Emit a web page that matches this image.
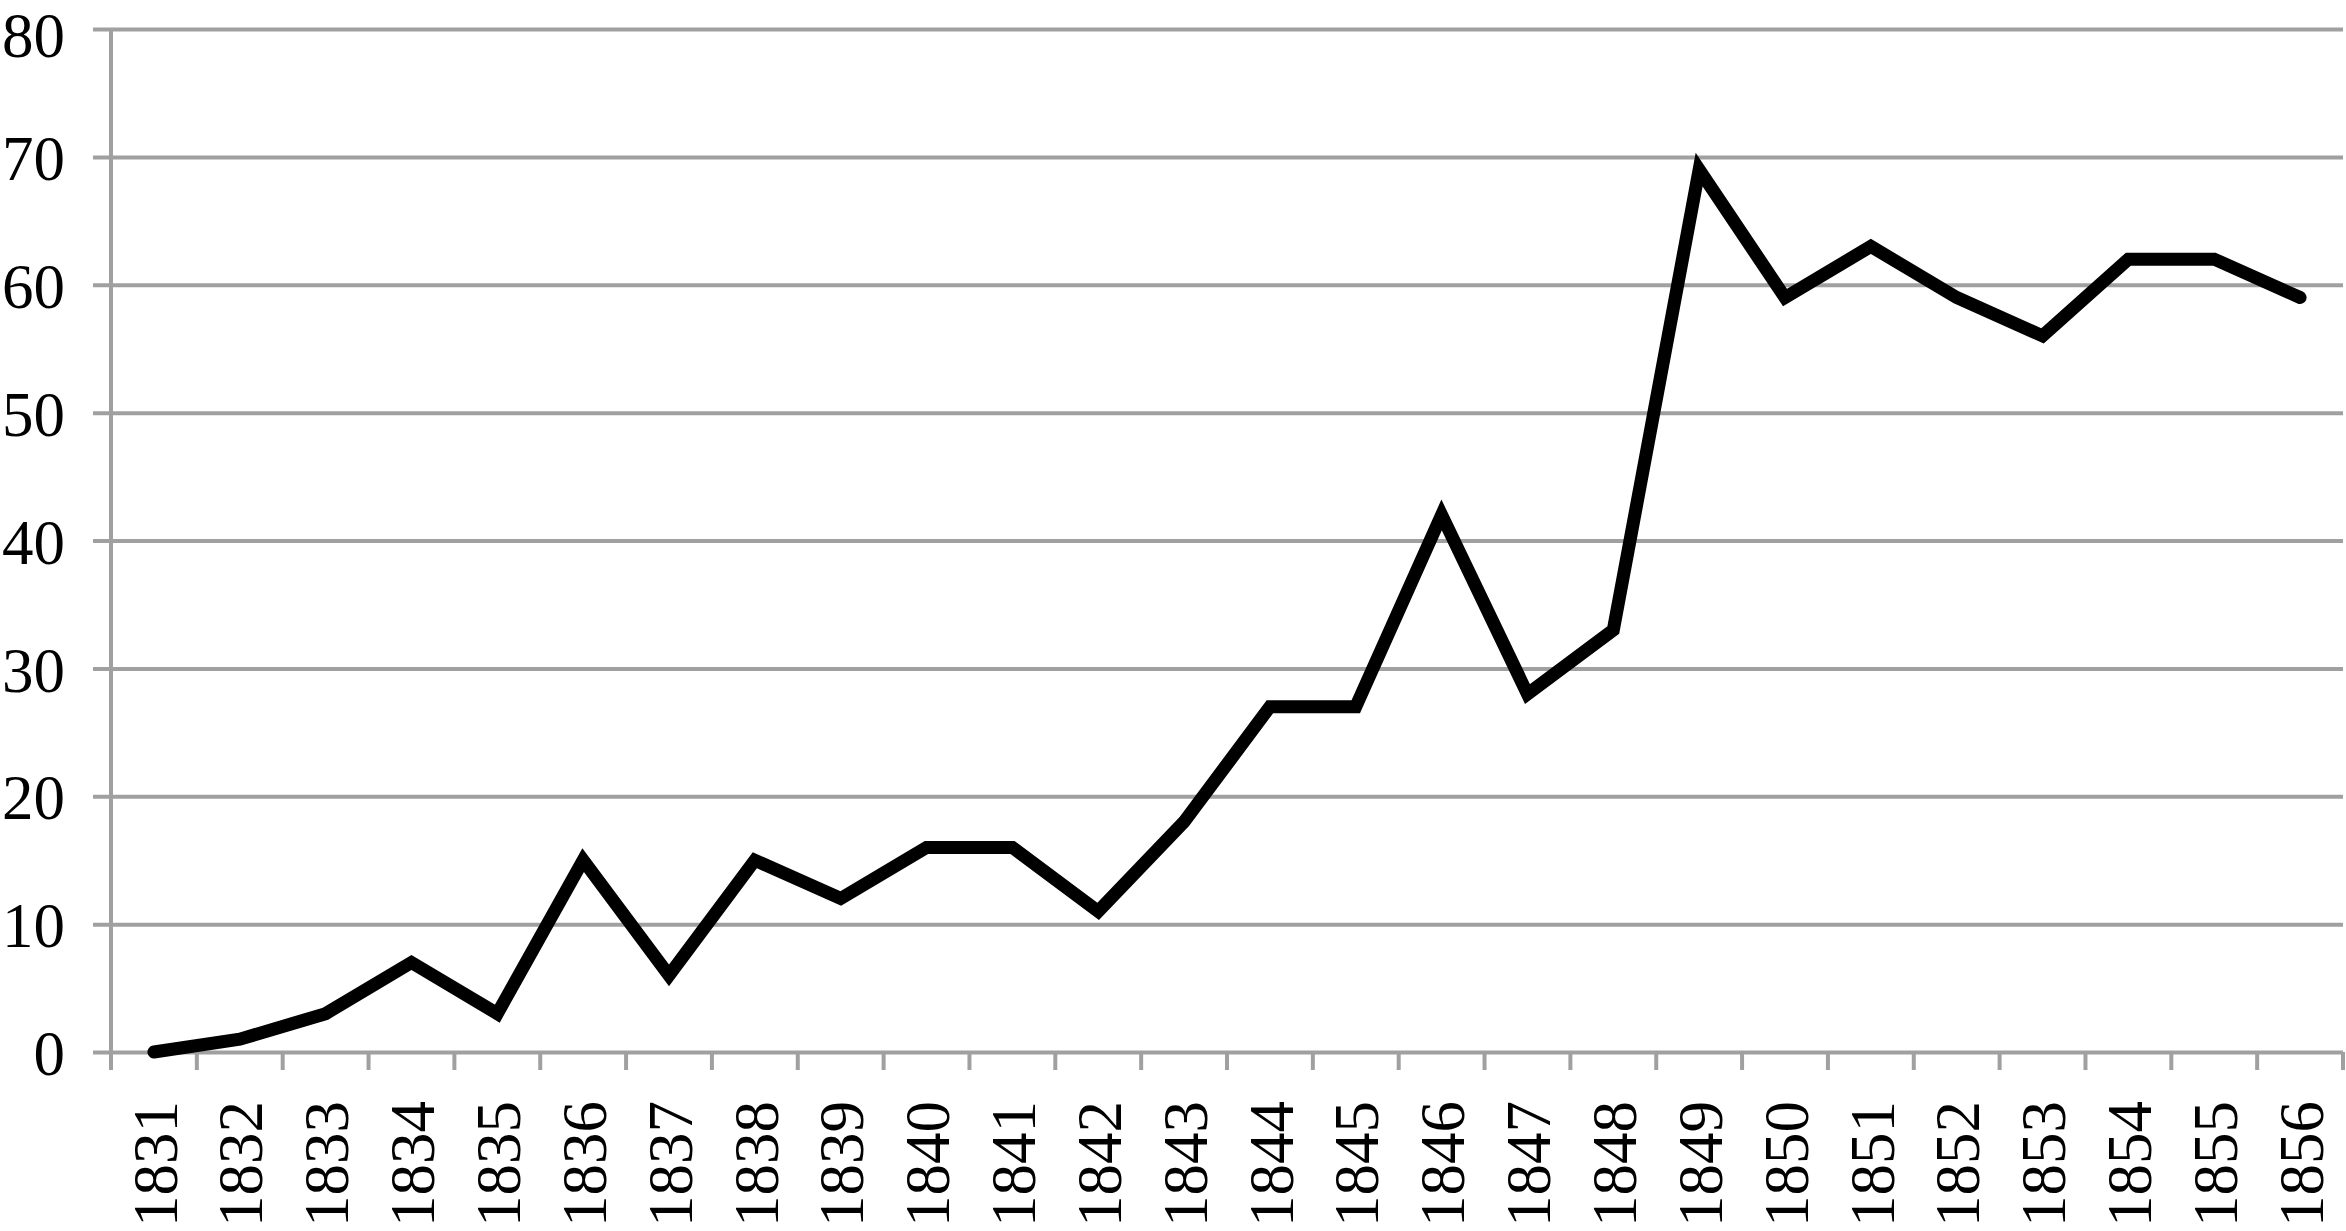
<!DOCTYPE html>
<html>
<head>
<meta charset="utf-8">
<script src="https://cdn.jsdelivr.net/npm/d3@7"></script>
<style>
  body { margin: 0; background: #fff; }
  svg { display: block; }
</style>
</head>
<body>
<script>
/**
 * DATA
 */
const years = [
  "1831", "1832", "1833", "1834", "1835", "1836", "1837", "1838", "1839",
  "1840", "1841", "1842", "1843", "1844", "1845", "1846", "1847", "1848",
  "1849", "1850", "1851", "1852", "1853", "1854", "1855", "1856",
];
const counts = [
  0, 1, 3, 7, 3, 15, 6, 15, 12, 16, 16, 11, 18, 27, 27, 42, 28, 33,
  69, 59, 63, 59, 56, 62, 62, 59,
];
const yTicks = [0, 10, 20, 30, 40, 50, 60, 70, 80];

/**
 * CONSTANTS
 */
const WIDTH = 2346;
const HEIGHT = 1231;
const GRID = "#a0a0a0";
const FONT = "'Liberation Serif', 'Times New Roman', serif";
const FONT_SIZE = 63;

const margin = { top: 29, right: 3, bottom: 179, left: 111 };

const svg = d3
  .select("body")
  .append("svg")
  .attr("width", WIDTH)
  .attr("height", HEIGHT);

const x = d3
  .scaleBand()
  .domain(years)
  .range([margin.left, WIDTH - margin.right]);

const y = d3
  .scaleLinear()
  .domain([0, 80])
  .range([HEIGHT - margin.bottom, margin.top]);

// gridlines + y labels
const yAxis = d3
  .axisLeft(y)
  .tickValues(yTicks)
  .tickSize(-(WIDTH - margin.right - margin.left))
  .tickSizeOuter(0)
  .tickPadding(0);

const gy = svg
  .append("g")
  .attr("transform", `translate(${margin.left},0)`)
  .call(yAxis);

gy.select(".domain").remove();
gy.selectAll(".tick line")
  .attr("x1", -18)
  .attr("stroke", GRID)
  .attr("stroke-width", 4);
// the top label sits a little lower so it stays inside the page
gy.selectAll(".tick text")
  .attr("x", -46)
  .attr("y", (d) => (d === 80 ? 5 : 0))
  .attr("dy", "0.36em")
  .attr("fill", "#000")
  .style("font-family", FONT)
  .style("font-size", `${FONT_SIZE}px`);

// vertical axis line
svg
  .append("line")
  .attr("x1", margin.left)
  .attr("x2", margin.left)
  .attr("y1", y(80))
  .attr("y2", y(0) + 18)
  .attr("stroke", GRID)
  .attr("stroke-width", 4);

// x axis: ticks on band boundaries, labels at centres
const tickPos = years.map((d) => x(d)).concat([x.range()[1]]);
svg
  .append("g")
  .selectAll("line")
  .data(tickPos)
  .join("line")
  .attr("x1", (d) => d)
  .attr("x2", (d) => d)
  .attr("y1", y(0))
  .attr("y2", y(0) + 18)
  .attr("stroke", GRID)
  .attr("stroke-width", 4);

svg
  .append("g")
  .selectAll("text")
  .data(years)
  .join("text")
  .attr(
    "transform",
    (d) => `translate(${x(d) + x.bandwidth() / 2},${y(0) + 49}) rotate(-90)`
  )
  .attr("text-anchor", "end")
  .attr("dy", "0.36em")
  .style("font-family", FONT)
  .style("font-size", `${FONT_SIZE}px`)
  .text((d) => d);

// the series
const line = d3
  .line()
  .x((d, i) => x(years[i]) + x.bandwidth() / 2)
  .y((d) => y(d));

svg
  .append("path")
  .datum(counts)
  .attr("d", line)
  .attr("fill", "none")
  .attr("stroke", "#000")
  .attr("stroke-width", 13)
  .attr("stroke-linejoin", "miter")
  .attr("stroke-linecap", "round");
</script>
</body>
</html>
